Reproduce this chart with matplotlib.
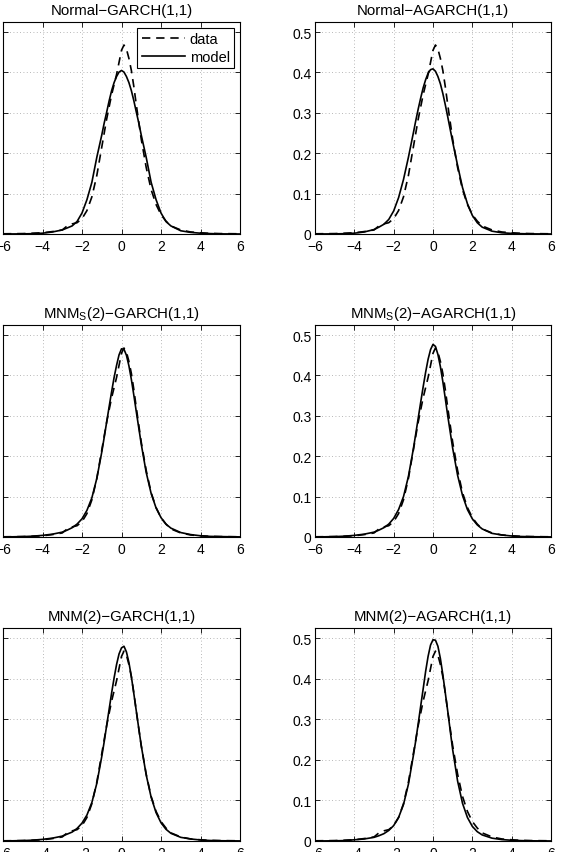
import numpy as np
import matplotlib
matplotlib.use('Agg')
import matplotlib.pyplot as plt

plt.rcParams['font.family'] = ['Liberation Sans', 'DejaVu Sans']
plt.rcParams['mathtext.fontset'] = 'custom'
plt.rcParams['mathtext.rm'] = 'Liberation Sans'

x = [-6, -5, -4.5, -4, -3.5, -3, -2.75, -2.5, -2.25, -2, -1.75, -1.5, -1.25,
     -1, -0.875, -0.75, -0.625, -0.5, -0.375, -0.25, -0.125, 0, 0.125, 0.25,
     0.375, 0.5, 0.625, 0.75, 0.875, 1,
     1.25, 1.5, 1.75, 2, 2.25, 2.5, 3, 3.5, 4, 4.5, 5, 6]

# empirical density (same dashed curve in every panel)
data = [0.0005, 0.001, 0.002, 0.003, 0.006, 0.01, 0.02, 0.025, 0.028, 0.038, 0.058, 0.092, 0.145,
        0.215, 0.25, 0.285, 0.315, 0.345, 0.37, 0.395, 0.425, 0.455, 0.468, 0.458,
        0.435, 0.405, 0.365, 0.32, 0.277, 0.235,
        0.165, 0.11, 0.073, 0.048, 0.032, 0.02, 0.01, 0.005, 0.003, 0.0015, 0.001, 0.0005]

normal_garch = [0, 0.0003, 0.0008, 0.002, 0.005, 0.01, 0.015, 0.02, 0.031, 0.052, 0.085, 0.128, 0.19,
                0.245, 0.275, 0.302, 0.33, 0.355, 0.375, 0.39, 0.401, 0.405, 0.401, 0.39,
                0.375, 0.355, 0.33, 0.302, 0.275, 0.245,
                0.19, 0.128, 0.085, 0.052, 0.031, 0.02, 0.008, 0.004, 0.002, 0.001, 0.0003, 0]

normal_agarch = [0, 0.0003, 0.0008, 0.002, 0.005, 0.011, 0.017, 0.024, 0.036, 0.057, 0.09, 0.135, 0.19,
                 0.25, 0.281, 0.31, 0.337, 0.362, 0.382, 0.398, 0.407, 0.409, 0.403, 0.39,
                 0.372, 0.348, 0.32, 0.29, 0.259, 0.228,
                 0.17, 0.115, 0.075, 0.046, 0.028, 0.017, 0.007, 0.003, 0.0015, 0.0008, 0.0003, 0]

mnms_garch = [0, 0.001, 0.002, 0.004, 0.007, 0.012, 0.017, 0.023, 0.032, 0.045, 0.066, 0.097, 0.145,
              0.21, 0.247, 0.285, 0.323, 0.36, 0.395, 0.425, 0.451, 0.466, 0.465, 0.45,
              0.424, 0.39, 0.351, 0.31, 0.27, 0.23,
              0.16, 0.108, 0.072, 0.048, 0.032, 0.022, 0.011, 0.006, 0.003, 0.0015, 0.001, 0.0003]

mnms_agarch = [0, 0.001, 0.002, 0.004, 0.007, 0.012, 0.017, 0.023, 0.032, 0.046, 0.068, 0.1, 0.15,
               0.218, 0.256, 0.295, 0.334, 0.372, 0.408, 0.44, 0.464, 0.477, 0.472, 0.452,
               0.422, 0.385, 0.343, 0.3, 0.26, 0.22,
               0.153, 0.103, 0.068, 0.045, 0.03, 0.02, 0.009, 0.005, 0.0025, 0.0012, 0.0007, 0.0002]

mnm_garch = [0, 0.001, 0.002, 0.004, 0.007, 0.012, 0.017, 0.022, 0.031, 0.044, 0.064, 0.095, 0.142,
             0.208, 0.245, 0.285, 0.325, 0.365, 0.402, 0.435, 0.461, 0.476, 0.48, 0.466,
             0.44, 0.405, 0.363, 0.32, 0.277, 0.235,
             0.163, 0.108, 0.07, 0.045, 0.029, 0.019, 0.009, 0.005, 0.0025, 0.0012, 0.0006, 0.0002]

mnm_agarch = [0, 0.0005, 0.001, 0.003, 0.005, 0.009, 0.013, 0.018, 0.026, 0.038, 0.058, 0.09, 0.14,
              0.21, 0.248, 0.29, 0.333, 0.375, 0.418, 0.455, 0.483, 0.496, 0.495, 0.48,
              0.45, 0.41, 0.365, 0.32, 0.272, 0.225,
              0.148, 0.093, 0.058, 0.036, 0.023, 0.015, 0.007, 0.0035, 0.0018, 0.0009, 0.0004, 0.0001]

titles = ['Normal\u2212GARCH(1,1)', 'Normal\u2212AGARCH(1,1)',
          'MNM$_\\mathrm{S}$(2)\u2212GARCH(1,1)', 'MNM$_\\mathrm{S}$(2)\u2212AGARCH(1,1)',
          'MNM(2)\u2212GARCH(1,1)', 'MNM(2)\u2212AGARCH(1,1)']
models = [normal_garch, normal_agarch, mnms_garch, mnms_agarch, mnm_garch, mnm_agarch]

W, H = 568, 853
fig = plt.figure(figsize=(W / 100, H / 100), dpi=100)

# axes boxes in pixels: (left, right) per column, (top, bottom) per row
cols = [(3, 240), (315, 551)]
rows = [(23, 235), (326, 538), (629, 842)]

for i in range(6):
    l, r = cols[i % 2]
    t, b = rows[i // 2]
    ax = fig.add_axes([l / W, 1 - b / H, (r - l) / W, (b - t) / H])
    ax.plot(x, data, color='black', linestyle=(0, (5, 3.5)), linewidth=1.2, label='data')
    ax.plot(x, models[i], color='black', linestyle='-', linewidth=1.2, label='model')
    ax.set_xlim(-6, 6)
    ax.set_ylim(0, 0.525)
    ax.set_xticks(np.arange(-6, 7, 2))
    ax.set_yticks(np.arange(0, 0.51, 0.1))
    ax.set_yticklabels(['0', '0.1', '0.2', '0.3', '0.4', '0.5'])
    ax.tick_params(direction='in', top=True, right=True, length=3.5, width=0.6,
                   labelsize=10)
    ax.tick_params(axis='x', pad=3.5)
    ax.tick_params(axis='y', pad=2.5)
    ax.grid(True, color='#a0a0a0', linestyle=(0, (1, 3)), linewidth=0.6)
    for s in ax.spines.values():
        s.set_linewidth(0.8)
    ax.set_title(titles[i], fontsize=10.8, pad=6)
    if i == 0:
        leg = ax.legend(loc='upper right', fontsize=10.5, fancybox=False, framealpha=1,
                        edgecolor='black', handlelength=3.0, borderpad=0.3,
                        labelspacing=0.25, handletextpad=0.3, borderaxespad=0.4)
        leg.get_frame().set_linewidth(0.8)

plt.savefig('out.png', dpi=100)
